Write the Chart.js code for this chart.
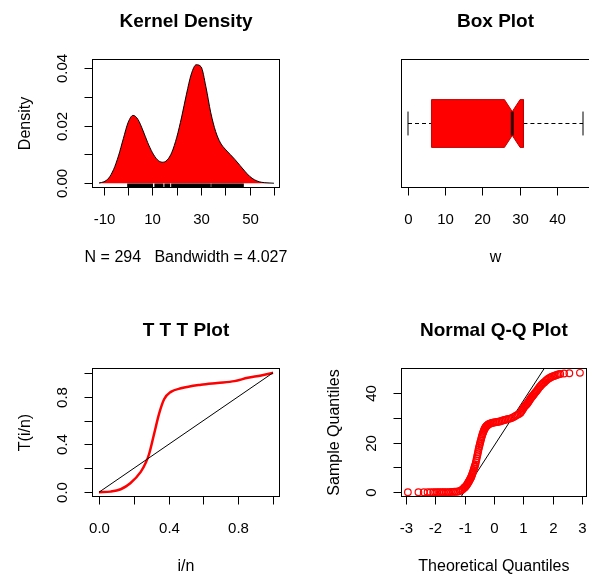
<!DOCTYPE html>
<html><head><meta charset="utf-8">
<script src="https://cdn.jsdelivr.net/npm/chart.js@4.4.1/dist/chart.umd.min.js"></script>
<style>
html,body{margin:0;padding:0;background:#fff;}
#wrap{position:relative;width:589px;height:576px;overflow:hidden;background:#fff;}
#wrap canvas{position:absolute;left:0;top:0;}
</style></head><body>
<div id="wrap">
<canvas id="c1" width="592" height="576"></canvas>
<canvas id="c2" width="592" height="576"></canvas>
<canvas id="c3" width="592" height="576"></canvas>
<canvas id="c4" width="592" height="576"></canvas>
</div>
<script>
// ---------- data ----------
const densityX = [-12,-10,-8,-6,-4,-2,0,2,4,6,8,10,12,14,16,18,20,22,24,26,28,30,32,34,36,38,40,42,44,46,48,50,52,54,56,58,60];
const densityY = [0.0001,0.0005,0.0018,0.0048,0.0095,0.0155,0.0212,0.0236,0.0222,0.0185,0.0142,0.0106,0.0082,0.0073,0.0080,0.0108,0.0160,0.0230,0.0310,0.0380,0.0412,0.0405,0.0335,0.0245,0.0180,0.0140,0.0118,0.0100,0.0082,0.0062,0.0042,0.0024,0.0012,0.0005,0.0002,0.0001,0.0000];
const rugValues = [0,0.5,1,1.5,2,2.6,3.1,3.7,4.2,4.8,5.3,5.9,6.4,7,7.6,8.1,8.7,9.2,9.8,11.2,11.8,12.4,13,13.6,14.1,15.3,15.9,16.5,16.9,18.1,18.7,19.3,19.9,20.5,21.1,21.7,22.3,22.9,23.5,24.1,24.7,25.3,25.9,26.5,27.1,27.7,28.3,28.9,29.5,30.1,30.7,31.3,31.9,32.5,33.1,33.6,34.6,35.2,35.8,36.4,37,37.6,38.2,38.8,39.4,40,40.6,41.2,41.8,42.4,43,43.6,44.2,44.8,45.4,46,46.6,47.2];
const densityN = 294;
const densityBandwidth = 4.027;

const boxStats = [0, 6.3, 28, 31, 47];   // min, Q1, median, Q3, max
const boxNotch = [25.9, 30.1];           // notch lower / upper

const tttX = [0,0.067,0.125,0.18,0.24,0.27,0.288,0.317,0.346,0.375,0.413,0.471,0.586,0.68,0.778,0.855,0.932,1];
const tttY = [0,0.005,0.025,0.075,0.17,0.25,0.32,0.49,0.66,0.78,0.84,0.87,0.90,0.915,0.93,0.958,0.977,1];
const diagX = [0,1];
const diagY = [0,1];

const qqTheo = [-2.93,-2.57,-2.39,-2.26,-2.16,-2.07,-2.0,-1.93,-1.87,-1.81,-1.75,-1.7,-1.64,-1.58,-1.52,-1.46,-1.4,-1.34,-1.28,-1.22,-1.16,-1.11,-1.06,-1.02,-1.0,-0.98,-0.96,-0.94,-0.92,-0.9,-0.885,-0.87,-0.855,-0.84,-0.825,-0.81,-0.795,-0.78,-0.765,-0.75,-0.735,-0.72,-0.705,-0.69,-0.675,-0.66,-0.645,-0.63,-0.615,-0.6,-0.585,-0.57,-0.555,-0.54,-0.525,-0.51,-0.495,-0.48,-0.465,-0.45,-0.435,-0.42,-0.405,-0.39,-0.375,-0.36,-0.345,-0.33,-0.315,-0.3,-0.285,-0.27,-0.255,-0.24,-0.22,-0.2,-0.18,-0.16,-0.12,-0.08,-0.04,0,0.05,0.1,0.15,0.2,0.25,0.3,0.35,0.4,0.45,0.5,0.55,0.6,0.65,0.7,0.75,0.8,0.85,0.9,0.925,0.95,0.975,1.0,1.025,1.05,1.075,1.1,1.125,1.15,1.175,1.2,1.225,1.25,1.275,1.3,1.325,1.35,1.375,1.4,1.43,1.46,1.49,1.52,1.55,1.58,1.615,1.65,1.685,1.72,1.76,1.8,1.84,1.88,1.925,1.97,2.02,2.07,2.11,2.16,2.21,2.26,2.39,2.57,2.93];
const qqSample = [0,0,0,0,0,0,0,0,0,0,0,0,0,0,0,0.1,0.1,0.2,0.2,0.3,0.5,0.8,1.2,1.7,1.9,2.1,2.4,2.7,3.0,3.4,3.7,4.0,4.3,4.6,4.9,5.3,5.6,6.0,6.4,6.9,7.4,7.9,8.4,9.0,9.6,10.2,10.7,11.3,12.1,12.9,13.7,14.6,15.4,16.3,17.2,18.0,18.7,19.4,20.1,20.8,21.5,22.2,22.8,23.4,23.9,24.4,24.9,25.3,25.7,26.0,26.3,26.5,26.7,26.9,27.1,27.3,27.5,27.6,27.8,28.0,28.1,28.2,28.3,28.4,28.5,28.6,28.8,29.0,29.2,29.3,29.5,29.7,29.8,30.0,30.3,30.6,31.0,31.3,31.6,32.0,32.4,32.9,33.4,33.9,34.4,34.8,35.1,35.4,35.7,36.1,36.5,37.0,37.4,37.9,38.3,38.7,39.0,39.4,39.8,40.2,40.6,41.0,41.5,42.0,42.5,42.9,43.4,43.8,44.2,44.5,45.0,45.4,45.8,46.1,46.4,46.7,46.9,47.1,47.3,47.5,47.7,47.8,48.0,48.1,48.3];

// ---------- ticks / labels ----------
const densXTicks = [-10,0,10,20,30,40,50,60];
const densXLabels = ['-10','','10','','30','','50',''];
const densYTicks = [0,0.01,0.02,0.03,0.04];
const densYLabels = ['0.00','','0.02','','0.04'];
const boxXTicks = [0,10,20,30,40];
const boxXLabels = ['0','10','20','30','40'];
const tttTicks = [0,0.2,0.4,0.6,0.8,1.0];
const tttLabels = ['0.0','','0.4','','0.8',''];
const qqXTicks = [-3,-2,-1,0,1,2,3];
const qqXLabels = ['-3','-2','-1','0','1','2','3'];
const qqYTicks = [0,10,20,30,40];
const qqYLabels = ['0','','20','','40'];

const titles = ['Kernel Density','Box Plot','T T T Plot','Normal Q-Q Plot'];

// ---------- R-style frame plugin ----------
const FONT = '"Liberation Sans", Arial, Helvetica, sans-serif';
const rPlot = {
  id: 'rPlot',
  afterDraw(chart, args, o) {
    const ctx = chart.ctx, a = chart.chartArea, xs = chart.scales.x, ys = chart.scales.y;
    const TL = 8;
    ctx.save();
    ctx.fillStyle = '#000'; ctx.strokeStyle = '#000'; ctx.lineWidth = 1;
    if (o.rug) {
      ctx.lineWidth = 2;
      ctx.beginPath();
      o.rug.forEach(v => { const px = xs.getPixelForValue(v); ctx.moveTo(px, a.bottom); ctx.lineTo(px, a.bottom - 4.5); });
      ctx.stroke();
      ctx.lineWidth = 1;
    }
    const L = Math.round(a.left) + 0.5, R = Math.round(a.right) - 0.5, T = Math.round(a.top) + 0.5, B = Math.round(a.bottom) - 0.5;
    ctx.strokeRect(L, T, R - L, B - T);
    if (o.xTicks) {
      const px = o.xTicks.map(v => Math.round(xs.getPixelForValue(v)) + 0.5);
      ctx.beginPath();
      ctx.moveTo(px[0], B); ctx.lineTo(px[px.length - 1], B);
      px.forEach(p => { ctx.moveTo(p, B); ctx.lineTo(p, B + TL); });
      ctx.stroke();
      ctx.font = '15px ' + FONT; ctx.textAlign = 'center'; ctx.textBaseline = 'middle';
      o.xLabels.forEach((t, i) => { if (t) ctx.fillText(t, px[i], a.bottom + 32); });
    }
    if (o.yTicks) {
      const py = o.yTicks.map(v => Math.round(ys.getPixelForValue(v)) + 0.5);
      ctx.beginPath();
      ctx.moveTo(L, py[0]); ctx.lineTo(L, py[py.length - 1]);
      py.forEach(p => { ctx.moveTo(L, p); ctx.lineTo(L - TL, p); });
      ctx.stroke();
      ctx.font = '15px ' + FONT; ctx.textAlign = 'center'; ctx.textBaseline = 'middle';
      o.yLabels.forEach((t, i) => {
        if (!t) return;
        ctx.save(); ctx.translate(a.left - 29, py[i]); ctx.rotate(-Math.PI / 2); ctx.fillText(t, 0, 0); ctx.restore();
      });
    }
    const cx = (a.left + a.right) / 2, cy = (a.top + a.bottom) / 2;
    ctx.textAlign = 'center'; ctx.textBaseline = 'middle';
    if (o.title) { ctx.font = 'bold 19px ' + FONT; ctx.fillText(o.title, cx, a.top - 37.5); }
    ctx.font = '16px ' + FONT;
    if (o.xTitle) ctx.fillText(o.xTitle, cx, a.bottom + 70);
    if (o.yTitle) { ctx.save(); ctx.translate(a.left - 66, cy); ctx.rotate(-Math.PI / 2); ctx.fillText(o.yTitle, 0, 0); ctx.restore(); }
    ctx.restore();
  }
};

function pts(xa, ya) { return xa.map((x, i) => ({x: x, y: ya[i]})); }

function makeChart(id, pad, xr, yr, datasets, rp) {
  return new Chart(document.getElementById(id), {
    type: 'scatter',
    data: {datasets: datasets},
    options: {
      responsive: false, animation: false, events: [],
      layout: {padding: pad},
      scales: {
        x: {type: 'linear', min: xr[0], max: xr[1], display: false},
        y: {type: 'linear', min: yr[0], max: yr[1], display: false}
      },
      plugins: {legend: {display: false}, tooltip: {enabled: false}, title: {display: false}, rPlot: rp}
    },
    plugins: [rPlot]
  });
}

const RED = '#FF0000';
const lineDS = (data, color, w, extra) => Object.assign({data: data, showLine: true, borderColor: color, borderWidth: w, pointRadius: 0, fill: false}, extra || {});

// Panel 1: kernel density
makeChart('c1', {left: 92, top: 59, right: 312, bottom: 388}, [-14.9, 62.5], [-0.00166, 0.0432], [
  lineDS(pts(densityX, densityY), '#000', 1, {fill: 'origin', backgroundColor: RED, cubicInterpolationMode: 'monotone'})
], {title: titles[0], xTicks: densXTicks, xLabels: densXLabels, yTicks: densYTicks, yLabels: densYLabels,
    xTitle: 'N = ' + densityN + '   Bandwidth = ' + densityBandwidth.toFixed(3), yTitle: 'Density', rug: rugValues});

// Panel 2: notched horizontal box plot
const [bMin, bQ1, bMed, bQ3, bMax] = boxStats;
const BH = 0.2, NH = 0.1, SH = 0.1;  // box half-height, notch half-height, staple half-height
const boxXs = [bQ1, boxNotch[0], bMed, boxNotch[1], bQ3];
const topY = [1 + BH, 1 + BH, 1 + NH, 1 + BH, 1 + BH];
const botY = [1 - BH, 1 - BH, 1 - NH, 1 - BH, 1 - BH];
const outline = pts(boxXs, topY).concat(pts(boxXs.slice().reverse(), botY.slice().reverse()));
outline.push({x: bQ1, y: 1 + BH});
makeChart('c2', {left: 401, top: 59, right: 2, bottom: 388}, [-1.88, 48.88], [0.46, 1.54], [
  lineDS([{x: bMin, y: 1}, {x: bQ1, y: 1}], '#000', 1, {borderDash: [4, 3], order: 10}),
  lineDS([{x: bQ3, y: 1}, {x: bMax, y: 1}], '#000', 1, {borderDash: [4, 3], order: 10}),
  lineDS([{x: bMin, y: 1 - SH}, {x: bMin, y: 1 + SH}], '#000', 1, {order: 10}),
  lineDS([{x: bMax, y: 1 - SH}, {x: bMax, y: 1 + SH}], '#000', 1, {order: 10}),
  lineDS(pts(boxXs, topY), RED, 0, {tension: 0, order: 5}),
  lineDS(pts(boxXs, botY), RED, 0, {fill: '-1', backgroundColor: RED, tension: 0, order: 4}),
  lineDS(outline, '#C00000', 1, {order: 2}),
  lineDS([{x: bMed, y: 1 - NH}, {x: bMed, y: 1 + NH}], '#300000', 3, {order: 1})
], {title: titles[1], xTicks: boxXTicks, xLabels: boxXLabels, xTitle: 'w'});

// Panel 3: TTT plot
makeChart('c3', {left: 92, top: 368, right: 312, bottom: 79}, [-0.04, 1.04], [-0.04, 1.04], [
  lineDS(pts(diagX, diagY), '#000', 1),
  lineDS(pts(tttX, tttY), RED, 2.5, {cubicInterpolationMode: 'monotone'})
], {title: titles[2], xTicks: tttTicks, xLabels: tttLabels, yTicks: tttTicks, yLabels: tttLabels, xTitle: 'i/n', yTitle: 'T(i/n)'});

// Panel 4: Normal Q-Q plot
const qSlope = (bQ3 - bQ1) / (2 * 0.6745);
const qInt = bQ1 + qSlope * 0.6745;
const qqLineX = [-3.164, 3.164];
makeChart('c4', {left: 401, top: 368, right: 1, bottom: 79}, [-3.164, 3.164], [-1.932, 50.232], [
  {data: pts(qqTheo, qqSample), showLine: false, pointStyle: 'circle', pointRadius: 3.3, pointBorderWidth: 1.2,
   pointBorderColor: RED, pointBackgroundColor: 'rgba(0,0,0,0)', borderColor: RED, backgroundColor: 'rgba(0,0,0,0)'},
  lineDS(qqLineX.map(x => ({x: x, y: qInt + qSlope * x})), '#000', 1)
], {title: titles[3], xTicks: qqXTicks, xLabels: qqXLabels, yTicks: qqYTicks, yLabels: qqYLabels,
    xTitle: 'Theoretical Quantiles', yTitle: 'Sample Quantiles'});
</script>
</body></html>
